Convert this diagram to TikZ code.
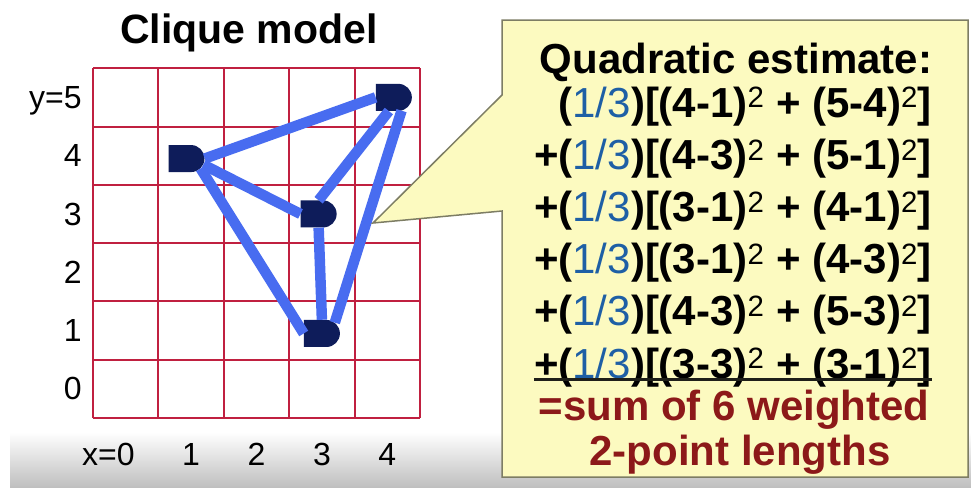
\documentclass[tikz,border=0pt]{standalone}
\usepackage{fontspec}
\setmainfont{Liberation Sans}
\usetikzlibrary{shapes.misc}
\definecolor{gridred}{RGB}{192,32,64}
\definecolor{wireblue}{RGB}{72,108,240}
\definecolor{pinnavy}{RGB}{14,28,90}
\definecolor{notefill}{RGB}{252,250,192}
\definecolor{noteedge}{RGB}{125,125,100}
\definecolor{thirdblue}{RGB}{30,95,165}
\definecolor{sumred}{RGB}{140,25,25}
\begin{document}
\begin{tikzpicture}[x=1pt, y=-1pt,
  gridline/.style={gridred, line width=2pt},
  wire/.style={wireblue, line width=10.5pt},
  cell/.style={rounded rectangle, rounded rectangle left arc=none, fill=pinnavy,
    minimum width=36pt, minimum height=27pt, inner sep=0pt},
  axis/.style={font=\fontsize{32}{36}\selectfont, inner sep=0pt},
  big/.style={font=\fontsize{42}{48}\selectfont\bfseries, inner sep=0pt}]
\useasboundingbox (0,0) rectangle (971,490);
\fill[white] (0,0) rectangle (971,490);
\shade[top color=white, bottom color=black!25] (10,432) rectangle (971,487);
\node[big, font=\fontsize{41}{48}\selectfont\bfseries, anchor=base] (title) at (249,43) {Clique model};
% grid and pins
\begin{scope}[shift={(93,418)}, x=65.4pt, y=58.3pt]
\foreach \i in {0,...,5}
	\draw[gridline] (\i,0) -- (\i,6);
\foreach \j in {0,...,6}
	\draw[gridline] (0,\j) -- (5,\j);
\foreach \j/\t in {0/0, 1/1, 2/2, 3/3, 4/4, 5/y=5}
	\node[axis, anchor=base east] (ylab\j) at (-0.17,\j+0.31) {\t};
\foreach \i/\t in {0/\llap{x=}0, 1/1, 2/2, 3/3, 4/4}
	\node[axis, anchor=base] (xlab\i) at (\i+0.5,-0.82) {\t};
\node[cell] (p14) at (1.43,4.45) {};
\node[cell] (p45) at (4.6,5.5) {};
\node[cell] (p33) at (3.45,3.5) {};
\node[cell] (p31) at (3.5,1.45) {};
\end{scope}
\foreach \a/\b in {p14.east/p45.west, p14.-20/p33.west, p14.-35/p31.west,
                   p45.-110/p33.north, p45.-60/p31.40, p33.south/p31.north}
	\draw[wire] (\a) -- (\b);
% callout
\coordinate (tip) at (373,223);
\draw[fill=notefill, draw=noteedge, line width=1.5pt, line join=miter]
  (502,20) -- (968,20) -- (968,477) -- (502,477) -- (502,211) -- (tip) -- (502,95) -- cycle;
\node[big, anchor=base] (head) at (736,73) {Quadratic estimate:};
\foreach \a/\b/\c/\d [count=\k] in {4/1/5/4, 4/3/5/1, 3/1/4/1, 3/1/4/3, 4/3/5/3, 3/3/3/1}
	\node[big, anchor=base] (t\k) at (733,{117+(\k-1)*52.2})
	  {\ifnum\k=1 \phantom{+}\else +\fi(\textcolor{thirdblue}{\mdseries 1/3})[(\a-\b)\textsuperscript{\mdseries 2} + (\c-\d)\textsuperscript{\mdseries 2}]};
\draw[black!75!noteedge, line width=2.5pt] ([yshift=-1.5pt]t6.base west) -- ([yshift=-1.5pt]t6.base east);
\node[big, text=sumred, anchor=base] (sum1) at (734,420) {=sum of 6 weighted};
\node[big, text=sumred, anchor=base] (sum2) at (740,465) {2-point lengths};
\end{tikzpicture}
\end{document}
